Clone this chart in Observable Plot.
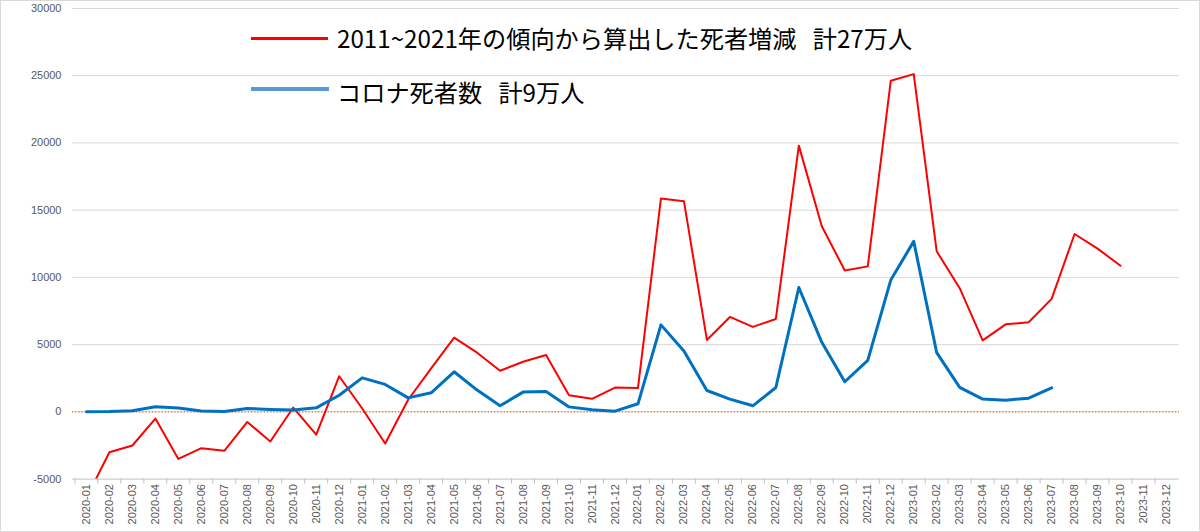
<!DOCTYPE html>
<html>
<head>
<meta charset="utf-8">
<script src="https://cdn.jsdelivr.net/npm/d3@7"></script>
<script src="https://cdn.jsdelivr.net/npm/@observablehq/plot@0.6"></script>
<style>
  html, body { margin: 0; padding: 0; background: #fff; }
  #wrap { position: relative; width: 1200px; height: 532px; box-sizing: border-box; border: 1px solid #d9d9d9; overflow: hidden; }
  #chart { position: absolute; left: -1px; top: -1px; }
  .leg { position: absolute; font-family: "Noto Sans CJK JP", sans-serif; font-size: 24.2px; color: #000; white-space: pre; line-height: 1; }
  .sw { position: absolute; }
</style>
</head>
<body>
<div id="wrap">
  <div id="chart"></div>
  <div class="sw" style="left:250px; top:36px; width:77px; height:3px; background:#FF0000;"></div>
  <div class="leg" id="leg1" style="left:336px; top:25px;"></div>
  <div class="sw" style="left:250px; top:86px; width:78px; height:4px; background:#5B9BD5;"></div>
  <div class="leg" id="leg2" style="left:336px; top:79px;"></div>
</div>
<script>
const months = [
  "2020-01","2020-02","2020-03","2020-04","2020-05","2020-06","2020-07","2020-08","2020-09","2020-10","2020-11","2020-12",
  "2021-01","2021-02","2021-03","2021-04","2021-05","2021-06","2021-07","2021-08","2021-09","2021-10","2021-11","2021-12",
  "2022-01","2022-02","2022-03","2022-04","2022-05","2022-06","2022-07","2022-08","2022-09","2022-10","2022-11","2022-12",
  "2023-01","2023-02","2023-03","2023-04","2023-05","2023-06","2023-07","2023-08","2023-09","2023-10","2023-11","2023-12"
];
// 2011~2021年の傾向から算出した死者増減
const excessDeaths = [
  -6400, -3000, -2500, -500, -3500, -2700, -2900, -750, -2200, 320, -1700, 2650,
  250, -2350, 900, 3230, 5520, 4400, 3060, 3730, 4230, 1240, 970, 1810,
  1770, 15870, 15670, 5350, 7060, 6320, 6910, 19800, 13800, 10520, 10820, 24620,
  25120, 11940, 9200, 5320, 6510, 6660, 8400, 13230, 12140, 10870, null, null
];
// コロナ死者数
const covidDeaths = [
  10, 20, 80, 380, 280, 60, 20, 250, 180, 140, 300, 1240,
  2530, 2040, 1040, 1420, 2980, 1620, 450, 1470, 1520, 370, 150, 50,
  600, 6470, 4530, 1590, 950, 450, 1810, 9250, 5170, 2240, 3830, 9800,
  12680, 4400, 1820, 950, 870, 1020, 1790, null, null, null, null, null
];
const yTicks = [-5000, 0, 5000, 10000, 15000, 20000, 25000, 30000];
const legendLabels = ["2011~2021年の傾向から算出した死者増減   計27万人", "コロナ死者数   計9万人"];

document.getElementById("leg1").textContent = legendLabels[0];
document.getElementById("leg2").textContent = legendLabels[1];

const data = months.map((m, i) => ({month: m, excess: excessDeaths[i], covid: covidDeaths[i]}));

const W = 1200, H = 532, mL = 72, mR = 20, mT = 8, mB = 53;
const step = (W - mL - mR) / months.length;

const chart = Plot.plot({
  width: W,
  height: H,
  marginLeft: mL,
  marginRight: mR,
  marginTop: mT,
  marginBottom: mB,
  style: {fontFamily: "'Liberation Sans', Arial, sans-serif", background: "transparent", overflow: "visible", color: "#595959"},
  x: {type: "point", domain: months, padding: 0.5, label: null},
  y: {domain: [-5000, 30000], label: null},
  marks: [
    Plot.gridY(yTicks.filter(d => d > -5000), {stroke: "#d9d9d9", strokeOpacity: 1, strokeWidth: 1}),
    Plot.ruleY([-5000], {stroke: "#bfbfbf", strokeWidth: 1}),
    Plot.axisY({ticks: yTicks, tickSize: 0, tickPadding: 11, fontSize: 11, fill: "#595959", label: null, tickFormat: d => String(d)}),
    Plot.axisX({tickSize: 0, tickRotate: -90, tickPadding: 5, fontSize: 11, fill: "#595959", label: null}),
    Plot.axisX({tickSize: 5, tickFormat: () => "", stroke: "#bfbfbf", dx: -step / 2, label: null}),
    Plot.ruleY([0], {stroke: "#ED7D31", strokeWidth: 1.5, strokeDasharray: "1.2,2"}),
    Plot.line(data, {x: "month", y: "excess", stroke: "#FF0000", strokeWidth: 2, clip: true}),
    Plot.line(data, {x: "month", y: "covid", stroke: "#0070C0", strokeWidth: 3, clip: true})
  ]
});
document.getElementById("chart").appendChild(chart);
</script>
</body>
</html>
